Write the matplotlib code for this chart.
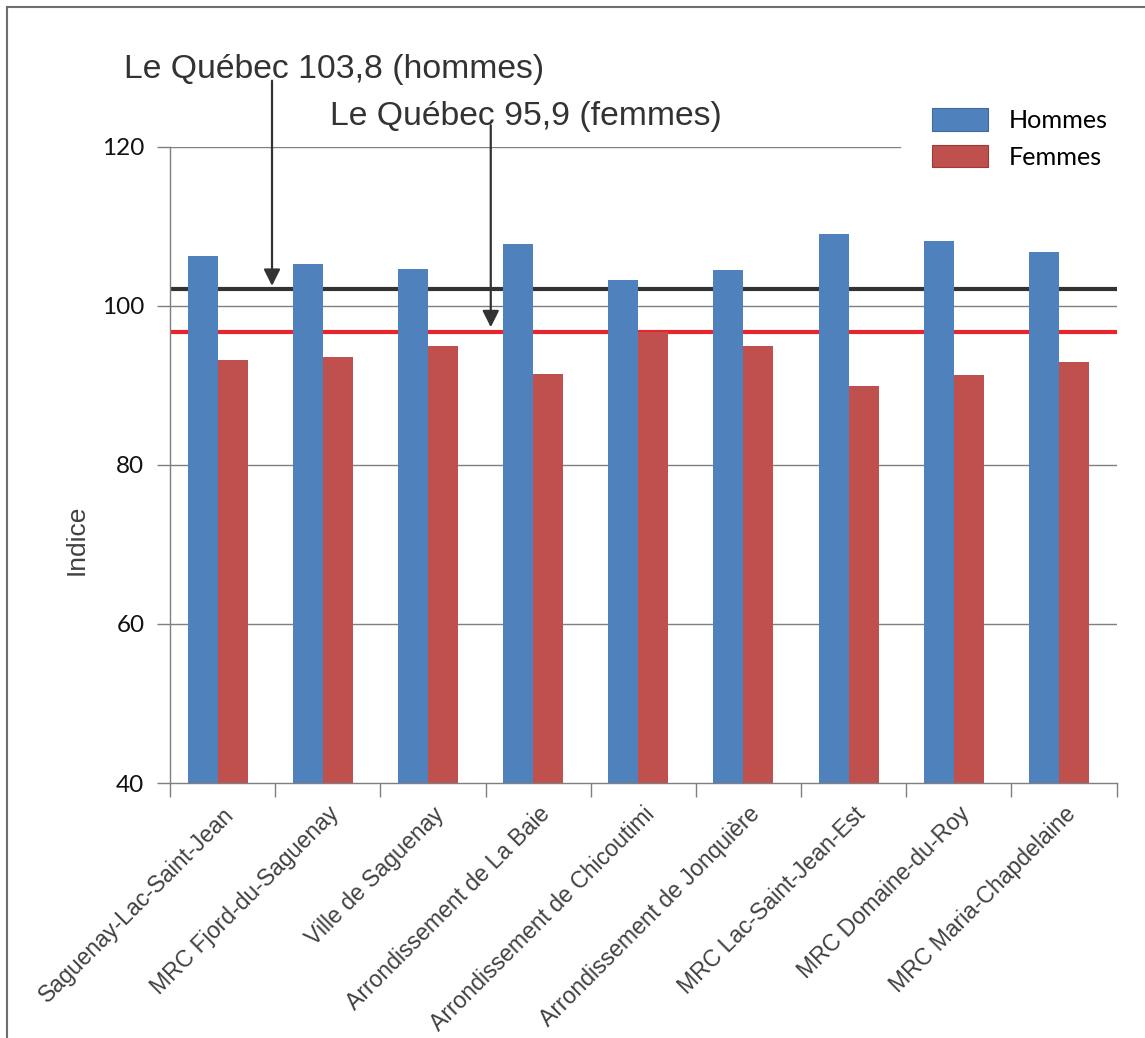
import matplotlib
matplotlib.use("Agg")
import matplotlib.pyplot as plt
from matplotlib.lines import Line2D
from matplotlib.patches import Patch
import matplotlib.transforms as mtransforms
import numpy as np

categories = [
    "Saguenay-Lac-Saint-Jean",
    "MRC Fjord-du-Saguenay",
    "Ville de Saguenay",
    "Arrondissement de La Baie",
    "Arrondissement de Chicoutimi",
    "Arrondissement de Jonquière",
    "MRC Lac-Saint-Jean-Est",
    "MRC Domaine-du-Roy",
    "MRC Maria-Chapdelaine",
]
hommes = [106.2, 105.2, 104.6, 107.8, 103.2, 104.5, 109.0, 108.2, 106.7]
femmes = [93.2, 93.5, 94.9, 91.4, 96.7, 94.9, 89.9, 91.3, 92.9]
ref_hommes = 102.05
ref_femmes = 96.65
label_hommes = "Le Québec 103,8 (hommes)"
label_femmes = "Le Québec 95,9 (femmes)"
yticks = [40, 60, 80, 100, 120]

W, H = 1145, 1038
fig = plt.figure(figsize=(W / 100, H / 100), dpi=100)
fig.patch.set_facecolor("white")

ax_l, ax_r, ax_t, ax_b = 170, 1116.5, 146.7, 783
ax = fig.add_axes([ax_l / W, 1 - ax_b / H, (ax_r - ax_l) / W, (ax_b - ax_t) / H])
ax.set_xlim(0, len(categories))
ax.set_ylim(40, 120)

blue = "#4f81bd"
red = "#c0504d"
gridc = "#7f7f7f"

idx = np.arange(len(categories))
bw = 0.285
ax.bar(idx + 0.31, hommes, width=bw, color=blue, zorder=4, label="Hommes")
ax.bar(idx + 0.595, femmes, width=bw, color=red, zorder=4, label="Femmes")

# grid lines
for yv in yticks[1:]:
    xmax = 0.771 if yv == 120 else 1.0
    ax.axhline(yv, xmin=0, xmax=xmax, color=gridc, lw=1.0, zorder=1)

# reference lines
ax.axhline(ref_hommes, color="#333333", lw=3.0, zorder=2)
ax.axhline(ref_femmes, color="#e8242c", lw=3.0, zorder=2)

# spines
for s in ["top", "right"]:
    ax.spines[s].set_visible(False)
for s in ["left", "bottom"]:
    ax.spines[s].set_color(gridc)
    ax.spines[s].set_linewidth(1.0)
ax.spines["bottom"].set_zorder(5)

ax.set_yticks(yticks)
ax.set_yticklabels([str(v) for v in yticks], fontfamily="Lato", fontsize=17.5, color="#111111")
ax.tick_params(axis="y", length=9.4, width=1.0, color=gridc, pad=9.0)

ax.set_xticks(np.arange(len(categories) + 1))
ax.set_xticklabels([])
ax.tick_params(axis="x", which="major", length=10, width=1.0, color=gridc)
ax.set_xticks(idx + 0.5, minor=True)
ax.set_xticklabels(categories, minor=True, rotation=45, ha="right", va="center",
                   rotation_mode="anchor", fontfamily="Liberation Sans", fontsize=16.6,
                   color="#404040")
ax.tick_params(axis="x", which="minor", length=0, pad=20)
off = mtransforms.ScaledTranslation(8 / 100, 0, fig.dpi_scale_trans)
for lab in ax.get_xticklabels(minor=True):
    lab.set_transform(lab.get_transform() + off)

ax.set_ylabel("Indice", fontfamily="Liberation Sans", fontsize=19, color="#404040")
ax.yaxis.set_label_coords((76.7 - ax_l) / (ax_r - ax_l), (ax_b - 540) / (ax_b - ax_t))
ax.yaxis.label.set_verticalalignment("center")

# annotations
arrow_kw = dict(arrowstyle="-|>,head_length=0.5,head_width=0.25", mutation_scale=20,
                color="#333333", lw=1.6, shrinkA=0, shrinkB=0)
ax.annotate("", xy=(0.97, 102.5), xytext=(0.97, 128.3), arrowprops=arrow_kw,
            annotation_clip=False, zorder=6)
ax.annotate("", xy=(3.05, 97.3), xytext=(3.05, 122.7), arrowprops=arrow_kw,
            annotation_clip=False, zorder=6)
ax.text(1.56, 129.75, label_hommes, ha="center", va="center", fontfamily="Liberation Sans",
        fontsize=24.3, color="#333333", clip_on=False)
ax.text(3.38, 123.8, label_femmes, ha="center", va="center", fontfamily="Liberation Sans",
        fontsize=24.3, color="#333333", clip_on=False)

handles = [Patch(facecolor=blue, edgecolor="#3d6a9e", lw=0.8, label="Hommes"),
           Patch(facecolor=red, edgecolor="#9c3a37", lw=0.8, label="Femmes")]
fig.legend(handles=handles, loc="upper left", bbox_to_anchor=(932 / W, 1 - 108 / H),
           frameon=False, prop={"family": "Lato", "size": 18.2}, handlelength=2.2,
           handleheight=1.0, handletextpad=0.85, labelspacing=0.5, borderpad=0,
           borderaxespad=0)

# figure border (top and left)
fig.add_artist(Line2D([7 / W, 1], [1 - 7 / H, 1 - 7 / H], color="#6e6e6e", lw=1.5,
                      transform=fig.transFigure))
fig.add_artist(Line2D([7 / W, 7 / W], [0, 1 - 7 / H], color="#6e6e6e", lw=1.5,
                      transform=fig.transFigure))

fig.savefig("out.png", dpi=100, facecolor="white")
